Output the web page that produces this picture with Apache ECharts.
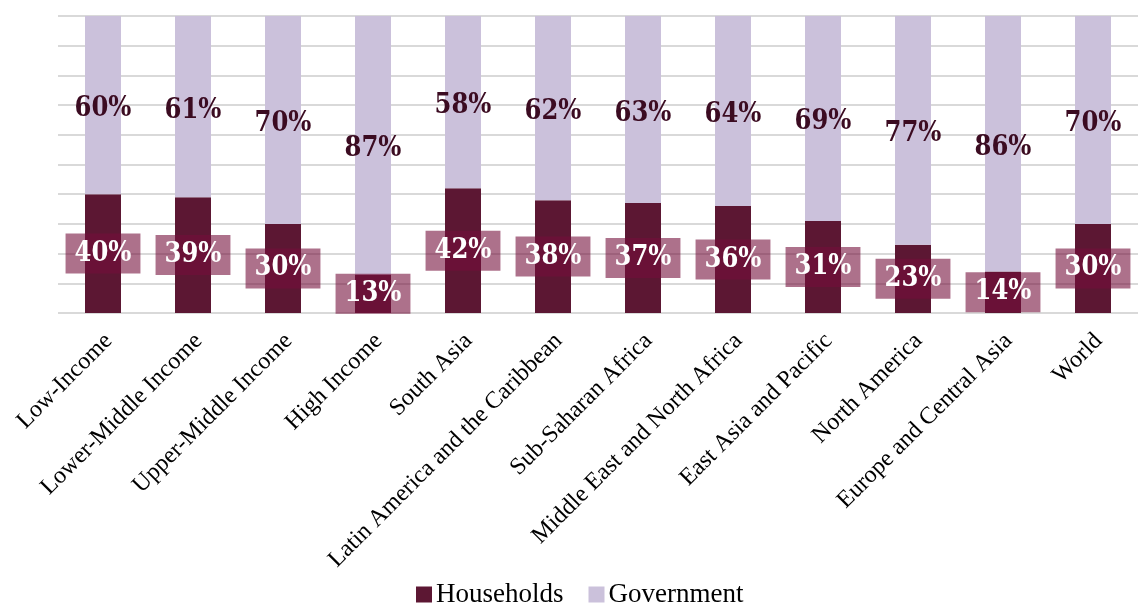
<!DOCTYPE html>
<html>
<head>
<meta charset="utf-8">
<script src="https://cdn.jsdelivr.net/npm/echarts@6/dist/echarts.min.js"></script>
<style>
  html, body { margin: 0; padding: 0; background: #ffffff; }
  #chart { width: 1138px; height: 603px; }
</style>
</head>
<body>
<div id="chart"></div>
<script>
// Share of spending by source, per region / income group (percent)
const categories = [
  'Low-Income', 'Lower-Middle Income', 'Upper-Middle Income', 'High Income',
  'South Asia', 'Latin America and the Caribbean', 'Sub-Saharan Africa',
  'Middle East and North Africa', 'East Asia and Pacific', 'North America',
  'Europe and Central Asia', 'World'
];
const households = [40, 39, 30, 13, 42, 38, 37, 36, 31, 23, 14, 30];
const government = [60, 61, 70, 87, 58, 62, 63, 64, 69, 77, 86, 70];

const chart = echarts.init(document.getElementById('chart'));

const serif = '"Liberation Serif", "Times New Roman", serif';
const labelFont = '"DejaVu Serif Condensed", "DejaVu Serif", serif';

chart.setOption({
  animation: false,
  backgroundColor: '#ffffff',
  grid: { left: 58, right: -8, top: 16, bottom: 290, containLabel: false },
  legend: {
    top: 576,
    left: 411,
    itemWidth: 16,
    itemHeight: 16,
    itemGap: 25,
    icon: 'rect',
    textStyle: { fontFamily: serif, fontSize: 27, color: '#000000', padding: [0, 0, 0, -1] },
    data: ['Households', 'Government']
  },
  xAxis: {
    type: 'category',
    data: categories,
    axisLine: { show: false },
    axisTick: { show: false },
    axisLabel: {
      rotate: 45,
      interval: 0,
      margin: 30,
      padding: [0, -8, 0, 0],
      fontFamily: serif,
      fontSize: 24,
      color: '#000000'
    }
  },
  yAxis: {
    type: 'value',
    min: 0,
    max: 100,
    interval: 10,
    axisLabel: { show: false },
    axisLine: { show: false },
    axisTick: { show: false },
    splitLine: { lineStyle: { color: '#d9d9d9', width: 2 } }
  },
  series: [
    {
      name: 'Households',
      type: 'bar',
      stack: 'total',
      barWidth: 36,
      data: households,
      itemStyle: { color: '#5c1733' },
      label: {
        show: true,
        position: 'inside',
        formatter: '{c}%',
        fontFamily: labelFont,
        fontWeight: 'bold',
        fontSize: 27,
        color: '#ffffff',
        backgroundColor: 'rgba(116, 14, 58, 0.59)',
        padding: [7, 9, 5, 9],
        lineHeight: 28
      }
    },
    {
      name: 'Government',
      type: 'bar',
      stack: 'total',
      barWidth: 36,
      data: government,
      itemStyle: { color: '#cbc1db' },
      label: {
        show: true,
        position: 'inside',
        offset: [0, 4],
        formatter: '{c}%',
        fontFamily: labelFont,
        fontWeight: 'bold',
        fontSize: 27,
        color: '#3b0b21'
      }
    }
  ]
});
</script>
</body>
</html>
